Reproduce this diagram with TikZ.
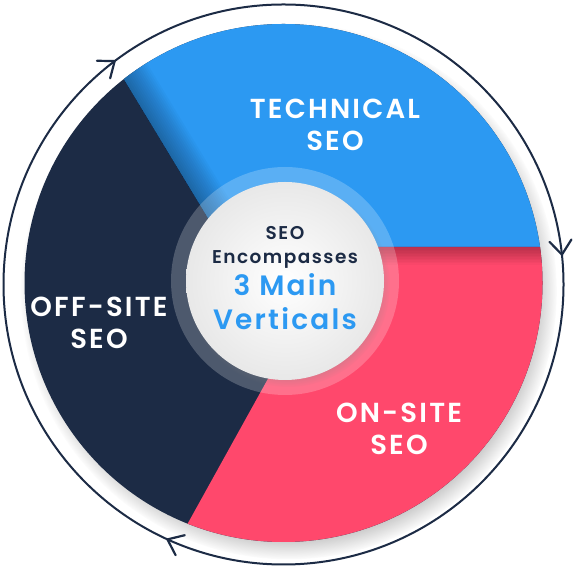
\documentclass[tikz,border=0pt]{standalone}
\usepackage{fontspec}
\setmainfont{Poppins}[BoldFont={Poppins SemiBold}]
\newfontfamily\seowide{Poppins SemiBold}[LetterSpace=8]
\usetikzlibrary{arrows.meta,decorations.markings,shadows}

\definecolor{seoblue}{HTML}{2C99F2}
\definecolor{seonavy}{HTML}{1C2B45}
\definecolor{seopink}{HTML}{FF486C}

\tikzset{
  slice label/.style={text=white, anchor=base, inner sep=0pt,
    font=\seowide\fontsize{27.5}{27.5}\selectfont},
  hub small/.style={text=seonavy, anchor=base, inner sep=0pt,
    font=\seowide\fontsize{18.5}{18.5}\selectfont},
  hub big/.style={text=seoblue, anchor=base, inner sep=0pt,
    font=\seowide\fontsize{28}{28}\selectfont},
  cycle mark/.style={line width=2.2pt, line cap=round, line join=round}
}

\begin{document}
\begin{tikzpicture}[x=1pt, y=1pt]
        \useasboundingbox (0,0) rectangle (577,577);
        \fill[white] (0,0) rectangle (577,577);

        \coordinate (outer) at (283.5,292.5);
        \coordinate (pie) at (283.5,294);
        \coordinate (hub) at (285,296);

        % Vòng tròn chu trình
        \draw[seonavy, line width=2pt, postaction={decorate},
          decoration={markings,
            mark=at position 0.017 with {\draw[cycle mark] (14pt,11pt) -- (0,0) -- (14pt,-11pt);},
            mark=at position 0.353 with {\draw[cycle mark] (14pt,11pt) -- (0,0) -- (14pt,-11pt);},
            mark=at position 0.682 with {\draw[cycle mark] (14pt,11pt) -- (0,0) -- (14pt,-11pt);}}]
          (outer) circle (280);

        % Ba phần của hình tròn
        \fill[seonavy, circular drop shadow={shadow xshift=5pt, shadow yshift=-8pt,
          shadow scale=1.035, opacity=.8}] (pie) circle (259);
        \coordinate (b0) at (225.6,330);
        \coordinate (b1) at (72.6,582.6);
        \coordinate (p0) at (341,330);
        \coordinate (p1) at (142,-29);
        \begin{scope}
          \clip (pie) circle (259);
          \fill[seoblue] (b0) -- (b1) -- (600,600) -- (600,330) -- cycle;
          \fill[seopink] (p0) -- (600,330) -- (600,-40) -- (p1) -- cycle;
          % bóng đổ giữa các phần
          \begin{scope}
            \clip (b0) -- (b1) -- (600,600) -- (600,330) -- cycle;
            \foreach \w in {4,8,...,56}
              \draw[black, opacity=.025, line width=\w pt] (b0) -- (b1);
          \end{scope}
          \begin{scope}
            \clip (p0) -- (600,330) -- (600,-40) -- (p1) -- cycle;
            \foreach \w in {3,6,...,36}
              \draw[black, opacity=.022, line width=\w pt] (200,330) -- (600,330);
          \end{scope}
        \end{scope}

        % Vòng tròn ở giữa
        \fill[white, opacity=.22] (hub) circle (114);
        \shade[inner color=white, outer color=gray!18,
          circular drop shadow={shadow xshift=3pt, shadow yshift=-4pt,
          shadow scale=1.03, opacity=.4}] (hub) circle (99);

        % Nhãn
        \node[slice label] (tech1) at (335,458) {TECHNICAL};
        \node[slice label] (tech2) at (335,426) {SEO};
        \node[slice label] (off1) at (99,260) {OFF-SITE};
        \node[slice label] (off2) at (99,228) {SEO};
        \node[slice label] (on1) at (399,154.5) {ON-SITE};
        \node[slice label] (on2) at (399,122.5) {SEO};

        \node[hub small] (hub1) at (285,337) {SEO};
        \node[hub small] (hub2) at (285,313) {Encompasses};
        \node[hub big] (hub3) at (285,281) {3 Main};
        \node[hub big] (hub4) at (285,247) {Verticals};
    \end{tikzpicture}
\end{document}
